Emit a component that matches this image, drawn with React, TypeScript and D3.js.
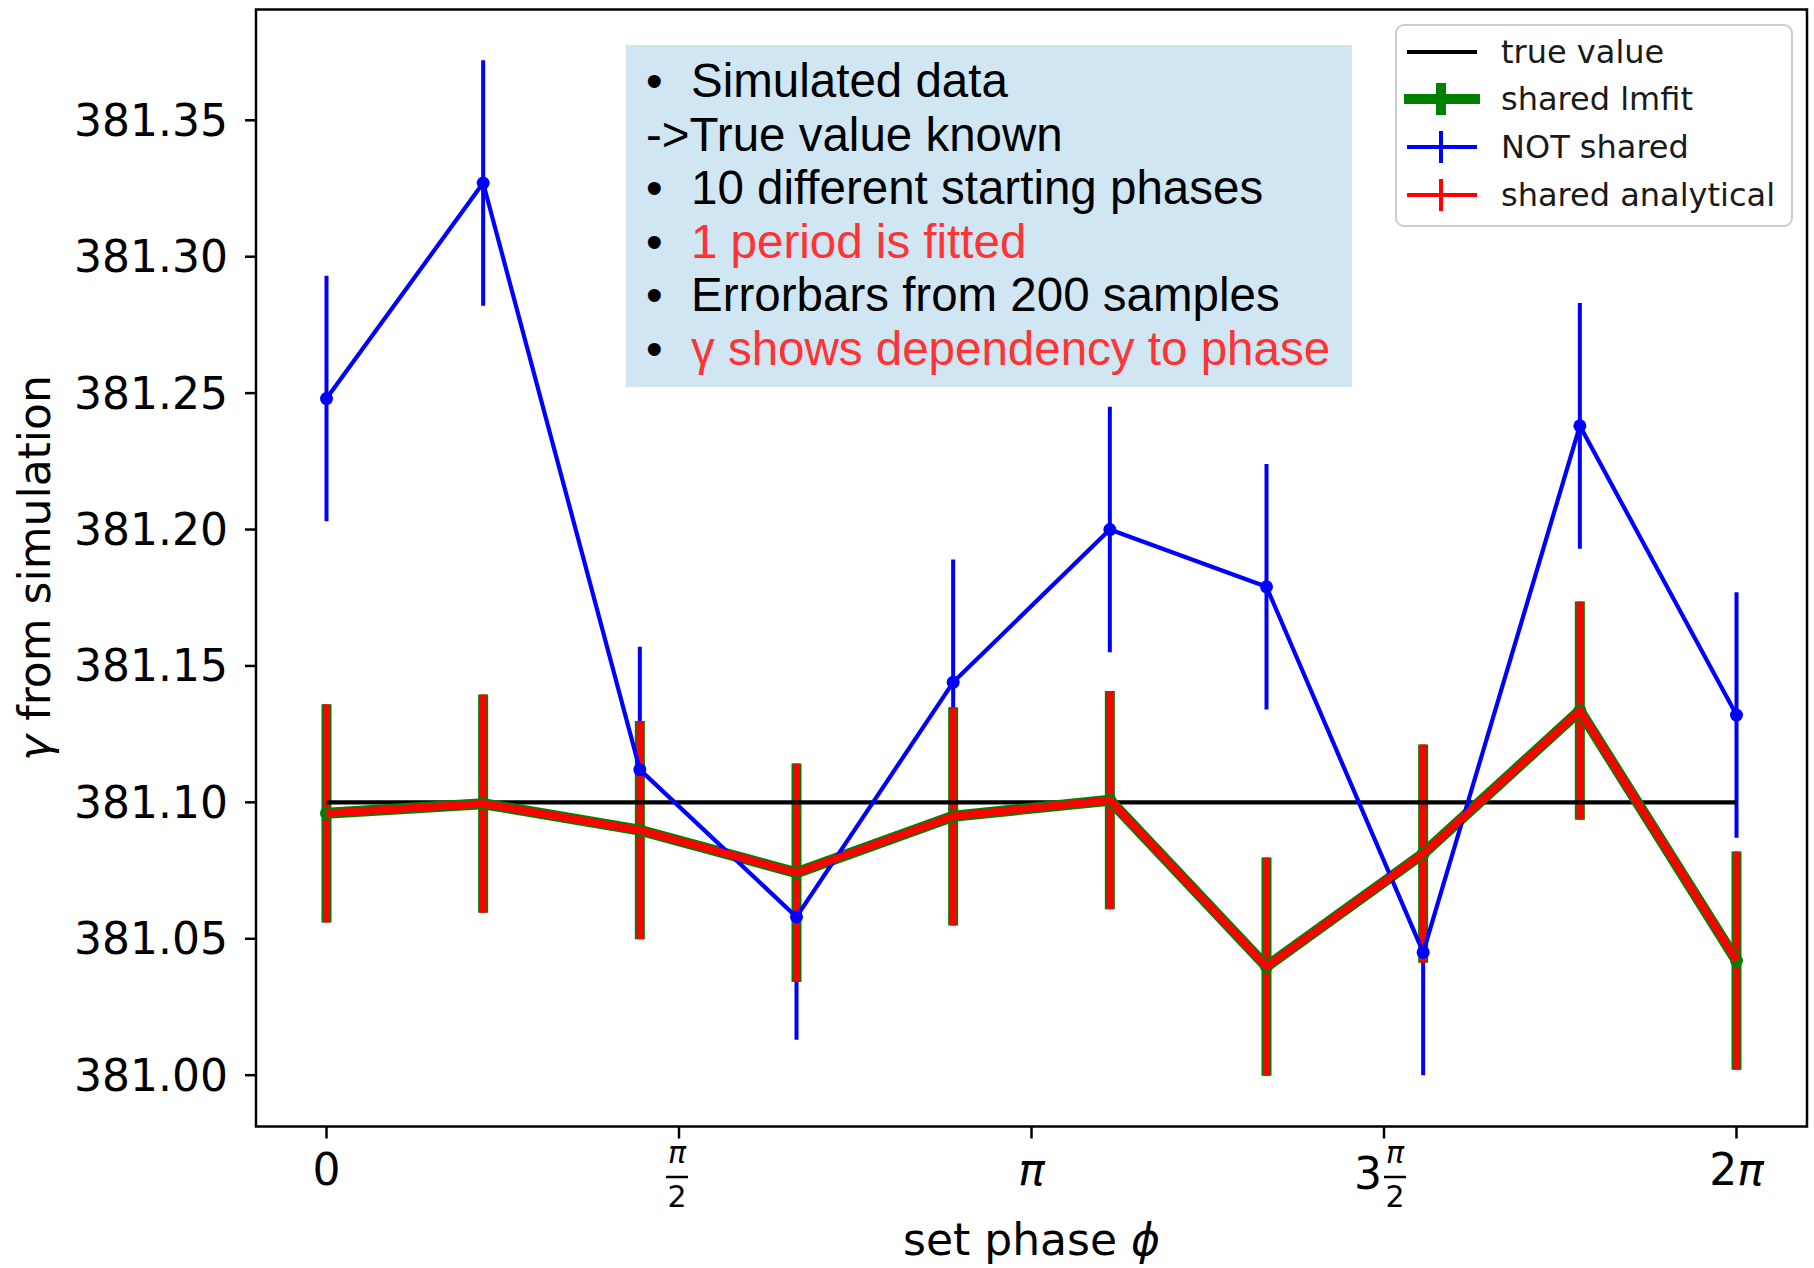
import React from "react";
import * as d3 from "d3";

// Set phases (rad) of the ten simulated runs
const phases = [0, 0.6981, 1.3963, 2.0944, 2.7925, 3.4907, 4.1888, 4.8869, 5.5851, 6.2832];
const trueValue = 381.1;

// gamma per phase for each fitting approach, with 1-sigma errors
const notShared = [381.248, 381.327, 381.112, 381.058, 381.144, 381.2, 381.179, 381.045, 381.238, 381.132];
const notSharedErr = [0.045, 0.045, 0.045, 0.045, 0.045, 0.045, 0.045, 0.045, 0.045, 0.045];
const sharedLmfit = [381.096, 381.0995, 381.0898, 381.0742, 381.0949, 381.1008, 381.0398, 381.0812, 381.1336, 381.042];
const sharedLmfitErr = [0.04, 0.04, 0.04, 0.04, 0.04, 0.04, 0.04, 0.04, 0.04, 0.04];
const sharedAnalytical = [381.096, 381.0995, 381.0898, 381.0742, 381.0949, 381.1008, 381.0398, 381.0812, 381.1336, 381.042];
const sharedAnalyticalErr = [0.04, 0.04, 0.04, 0.04, 0.04, 0.04, 0.04, 0.04, 0.04, 0.04];

const yTicks = [381.0, 381.05, 381.1, 381.15, 381.2, 381.25, 381.3, 381.35];
const xTicks = [0, Math.PI / 2, Math.PI, (3 * Math.PI) / 2, 2 * Math.PI];
const xTickKinds = ["0", "pi/2", "pi", "3pi/2", "2pi"];

const legendItems = ["true value", "shared lmfit", "NOT shared", "shared analytical"];

const notes = [
  { bullet: true, text: "Simulated data", red: false },
  { bullet: false, text: "->True value known", red: false },
  { bullet: true, text: "10 different starting phases", red: false },
  { bullet: true, text: "1 period is fitted", red: true },
  { bullet: true, text: "Errorbars from 200 samples", red: false },
  { bullet: true, text: "\u03b3 shows dependency to phase", red: true },
];

const W = 1814;
const H = 1268;
const plot = { left: 256, right: 1807, top: 9.5, bottom: 1126.5 };
const FONT = "'DejaVu Sans', sans-serif";
const ARIAL = "'Liberation Sans', Arial, sans-serif";

const GREEN = "#008000";
const BLUE = "#0000ff";
const RED = "#ff0000";

export default function App() {
  // matplotlib-style 5% margins around the data extent
  const xExt = d3.extent(phases) as [number, number];
  const xPad = (xExt[1] - xExt[0]) * 0.05;
  const x = d3.scaleLinear().domain([xExt[0] - xPad, xExt[1] + xPad]).range([plot.left, plot.right]);

  const lows = [
    ...notShared.map((v, i) => v - notSharedErr[i]),
    ...sharedLmfit.map((v, i) => v - sharedLmfitErr[i]),
    ...sharedAnalytical.map((v, i) => v - sharedAnalyticalErr[i]),
  ];
  const highs = [
    ...notShared.map((v, i) => v + notSharedErr[i]),
    ...sharedLmfit.map((v, i) => v + sharedLmfitErr[i]),
    ...sharedAnalytical.map((v, i) => v + sharedAnalyticalErr[i]),
  ];
  const yMin = d3.min(lows) as number;
  const yMax = d3.max(highs) as number;
  const yPad = (yMax - yMin) * 0.05;
  const y = d3.scaleLinear().domain([yMin - yPad, yMax + yPad]).range([plot.bottom, plot.top]);

  const line = d3
    .line<[number, number]>()
    .x((d) => x(d[0]))
    .y((d) => y(d[1]));

  const pts = (vals: number[]) => phases.map((p, i) => [p, vals[i]] as [number, number]);

  const bars = (vals: number[], errs: number[], color: string, width: number, key: string) =>
    phases.map((p, i) => (
      <line
        key={key + i}
        x1={x(p)}
        x2={x(p)}
        y1={y(vals[i] - errs[i])}
        y2={y(vals[i] + errs[i])}
        stroke={color}
        strokeWidth={width}
      />
    ));

  const xTickLabel = (kind: string, cx: number) => {
    const base = 1185;
    const fracNum = 1163;
    const fracBar = 1177;
    const fracDen = 1207;
    const frac = (fx: number) => (
      <g>
        <text x={fx} y={fracNum} fontSize={30} fontStyle="italic" textAnchor="middle" fontFamily={FONT}>
          π
        </text>
        <line x1={fx - 11} x2={fx + 11} y1={fracBar} y2={fracBar} stroke="#000" strokeWidth={2.5} />
        <text x={fx} y={fracDen} fontSize={30} textAnchor="middle" fontFamily={FONT}>
          2
        </text>
      </g>
    );
    if (kind === "0")
      return (
        <text x={cx} y={base} fontSize={44} textAnchor="middle" fontFamily={FONT}>
          0
        </text>
      );
    if (kind === "pi")
      return (
        <text x={cx} y={base} fontSize={44} fontStyle="italic" textAnchor="middle" fontFamily={FONT}>
          π
        </text>
      );
    if (kind === "2pi")
      return (
        <text x={cx} y={base} fontSize={44} textAnchor="middle" fontFamily={FONT}>
          2<tspan fontStyle="italic">π</tspan>
        </text>
      );
    if (kind === "pi/2") return frac(cx - 2);
    return (
      <g>
        <text x={cx - 2} y={1189} fontSize={44} textAnchor="end" fontFamily={FONT}>
          3
        </text>
        {frac(cx + 11)}
      </g>
    );
  };

  const legendX = 1396;
  const legendY = 25;
  const rowY = [52, 99, 147, 195];
  const handleX1 = 1407;
  const handleX2 = 1477;
  const handleCx = 1441;

  return (
    <svg
      width={W}
      height={H}
      viewBox={`0 0 ${W} ${H}`}
      style={{ position: "absolute", left: 0, top: 0, background: "#fff" }}
    >
      <rect x={0} y={0} width={W} height={H} fill="#fff" />

      {/* error bars */}
      {bars(sharedLmfit, sharedLmfitErr, GREEN, 10, "gb")}
      {bars(notShared, notSharedErr, BLUE, 4, "bb")}
      {bars(sharedAnalytical, sharedAnalyticalErr, RED, 6.5, "rb")}

      {/* true value reference */}
      <line
        x1={x(phases[0])}
        x2={x(phases[phases.length - 1])}
        y1={y(trueValue)}
        y2={y(trueValue)}
        stroke="#000"
        strokeWidth={4.2}
      />

      {/* shared lmfit */}
      <path d={line(pts(sharedLmfit)) || ""} fill="none" stroke={GREEN} strokeWidth={11} strokeLinejoin="round" />
      {phases.map((p, i) => (
        <circle key={"gm" + i} cx={x(p)} cy={y(sharedLmfit[i])} r={6.5} fill={GREEN} />
      ))}

      {/* NOT shared */}
      <path d={line(pts(notShared)) || ""} fill="none" stroke={BLUE} strokeWidth={4.2} strokeLinejoin="round" />
      {phases.map((p, i) => (
        <circle key={"bm" + i} cx={x(p)} cy={y(notShared[i])} r={6.5} fill={BLUE} />
      ))}

      {/* shared analytical */}
      <path d={line(pts(sharedAnalytical)) || ""} fill="none" stroke={RED} strokeWidth={7.5} strokeLinejoin="round" />

      {/* axes frame */}
      <rect
        x={plot.left}
        y={plot.top}
        width={plot.right - plot.left}
        height={plot.bottom - plot.top}
        fill="none"
        stroke="#000"
        strokeWidth={2.5}
      />

      {/* y ticks */}
      {yTicks.map((t) => (
        <g key={"yt" + t}>
          <line x1={plot.left - 11} x2={plot.left} y1={y(t)} y2={y(t)} stroke="#000" strokeWidth={2.5} />
          <text
            x={228}
            y={y(t)}
            fontSize={44}
            textAnchor="end"
            dominantBaseline="central"
            fontFamily={FONT}
            fill="#000"
          >
            {t.toFixed(2)}
          </text>
        </g>
      ))}

      {/* x ticks */}
      {xTicks.map((t, i) => (
        <g key={"xt" + i}>
          <line x1={x(t)} x2={x(t)} y1={plot.bottom} y2={plot.bottom + 12} stroke="#000" strokeWidth={2.5} />
          {xTickLabel(xTickKinds[i], x(t))}
        </g>
      ))}

      {/* axis labels */}
      <text x={(plot.left + plot.right) / 2} y={1255} fontSize={44} textAnchor="middle" fontFamily={FONT}>
        set phase <tspan fontStyle="italic">ϕ</tspan>
      </text>
      <text
        transform={`translate(50, ${(plot.top + plot.bottom) / 2}) rotate(-90)`}
        fontSize={44}
        textAnchor="middle"
        fontFamily={FONT}
      >
        <tspan fontStyle="italic">γ</tspan> from simulation
      </text>

      {/* notes box */}
      <rect x={626} y={45} width={726} height={342} fill="#d0e6f3" />
      {notes.map((n, i) => {
        const by = 97 + i * 53.6;
        const fill = n.red ? "#ff3333" : "#000";
        return (
          <g key={"n" + i}>
            {n.bullet && (
              <text x={646} y={by} fontSize={47.5} fontFamily={ARIAL} fill="#000">
                •
              </text>
            )}
            <text x={n.bullet ? 691 : 646} y={by} fontSize={47.5} fontFamily={ARIAL} fill={fill}>
              {n.text}
            </text>
          </g>
        );
      })}

      {/* legend */}
      <rect
        x={legendX}
        y={legendY}
        width={396}
        height={201}
        rx={8}
        fill="#fff"
        fillOpacity={0.8}
        stroke="#cccccc"
        strokeWidth={2}
      />
      <line x1={handleX1} x2={handleX2} y1={rowY[0]} y2={rowY[0]} stroke="#000" strokeWidth={4} />
      <line x1={handleX1 - 3} x2={handleX2 + 3} y1={rowY[1]} y2={rowY[1]} stroke={GREEN} strokeWidth={10} />
      <line x1={handleCx} x2={handleCx} y1={rowY[1] - 16} y2={rowY[1] + 16} stroke={GREEN} strokeWidth={10} />
      <line x1={handleX1} x2={handleX2} y1={rowY[2]} y2={rowY[2]} stroke={BLUE} strokeWidth={4} />
      <line x1={handleCx} x2={handleCx} y1={rowY[2] - 16} y2={rowY[2] + 16} stroke={BLUE} strokeWidth={4} />
      <line x1={handleX1} x2={handleX2} y1={rowY[3]} y2={rowY[3]} stroke={RED} strokeWidth={4} />
      <line x1={handleCx} x2={handleCx} y1={rowY[3] - 16} y2={rowY[3] + 16} stroke={RED} strokeWidth={4} />
      {legendItems.map((label, i) => (
        <text
          key={"lg" + i}
          x={1501}
          y={rowY[i]}
          fontSize={32}
          dominantBaseline="central"
          fontFamily={FONT}
          fill="#1a1a1a"
        >
          {label}
        </text>
      ))}
    </svg>
  );
}
